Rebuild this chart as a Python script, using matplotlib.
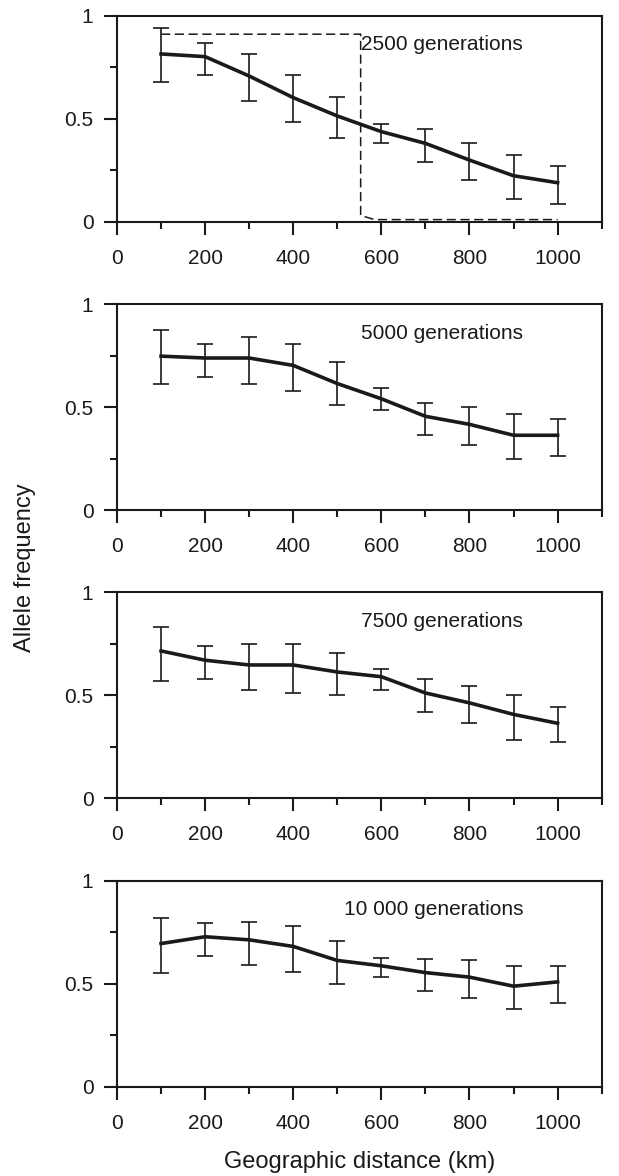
import matplotlib.pyplot as plt

plt.rcParams.update({
    "font.family": ["Liberation Sans", "DejaVu Sans"],
    "font.size": 15,
})

# distances (km)
distance = [100, 200, 300, 400, 500, 600, 700, 800, 900, 1000]

labels = ["2500 generations", "5000 generations",
          "7500 generations", "10 000 generations"]

# tick positions / labels
xticks = [0, 200, 400, 600, 800, 1000]
xticklabels = ["0", "200", "400", "600", "800", "1000"]
xminor = [100, 300, 500, 700, 900, 1100]
yticks = [0, 0.5, 1]
yticklabels = ["0", "0.5", "1"]
yminor = [0.25, 0.75]

# mean allele frequency per panel
freq_2500 = [0.814, 0.801, 0.707, 0.602, 0.513, 0.437, 0.380, 0.299, 0.223, 0.189]
freq_5000 = [0.748, 0.739, 0.739, 0.703, 0.615, 0.541, 0.456, 0.417, 0.364, 0.364]
freq_7500 = [0.715, 0.670, 0.647, 0.647, 0.613, 0.590, 0.511, 0.463, 0.407, 0.364]
freq_10000 = [0.695, 0.728, 0.713, 0.681, 0.613, 0.587, 0.554, 0.532, 0.488, 0.509]

# error bar upper / lower ends
hi_2500 = [0.938, 0.869, 0.814, 0.710, 0.607, 0.472, 0.451, 0.382, 0.325, 0.270]
lo_2500 = [0.680, 0.712, 0.587, 0.484, 0.405, 0.380, 0.290, 0.201, 0.108, 0.087]
hi_5000 = [0.875, 0.808, 0.841, 0.808, 0.718, 0.591, 0.519, 0.500, 0.466, 0.443]
lo_5000 = [0.614, 0.648, 0.615, 0.580, 0.510, 0.489, 0.364, 0.318, 0.250, 0.261]
hi_7500 = [0.831, 0.740, 0.751, 0.751, 0.706, 0.626, 0.580, 0.546, 0.499, 0.444]
lo_7500 = [0.567, 0.580, 0.524, 0.511, 0.499, 0.524, 0.420, 0.363, 0.283, 0.272]
hi_10000 = [0.817, 0.794, 0.802, 0.781, 0.705, 0.624, 0.622, 0.613, 0.588, 0.588]
lo_10000 = [0.554, 0.635, 0.590, 0.556, 0.499, 0.533, 0.464, 0.431, 0.375, 0.408]

# initial (step) distribution, drawn dashed in first panel
init_x = [100, 553, 553, 585, 1000]
init_y = [0.91, 0.91, 0.03, 0.01, 0.01]

freqs = [freq_2500, freq_5000, freq_7500, freq_10000]
his = [hi_2500, hi_5000, hi_7500, hi_10000]
los = [lo_2500, lo_5000, lo_7500, lo_10000]

fig = plt.figure(figsize=(6.19, 11.76), dpi=100)

left, width, height = 0.189, 0.783, 0.1752
bottoms = [0.8115, 0.5661, 0.3212, 0.0759]

ink = "#1a1a1a"

for i in range(4):
    ax = fig.add_axes([left, bottoms[i], width, height])
    y = freqs[i]
    yerr = [[m - l for m, l in zip(y, los[i])],
            [h - m for m, h in zip(y, his[i])]]

    ax.errorbar(distance, y, yerr=yerr, fmt="none", ecolor=ink,
                elinewidth=1.2, capsize=5.8, capthick=1.2, zorder=2)
    ax.plot(distance, y, color=ink, linewidth=2.6, zorder=3,
            solid_joinstyle="round")

    if i == 0:
        ax.plot(init_x, init_y, color=ink, linewidth=1.1,
                dashes=(6, 3), zorder=1)

    ax.text(922, 0.86, labels[i], ha="right", va="center",
            fontsize=15, color=ink)

    ax.set_xlim(0, 1100)
    ax.set_ylim(0, 1)
    ax.set_xticks(xticks, labels=xticklabels)
    ax.set_xticks(xminor, minor=True)
    ax.set_yticks(yticks, labels=yticklabels)
    ax.set_yticks(yminor, minor=True)

    for s in ax.spines.values():
        s.set_linewidth(1.5)
        s.set_color(ink)
    ax.tick_params(which="major", direction="out", length=9.5, width=1.5,
                   colors=ink, labelsize=15)
    ax.tick_params(axis="x", which="major", pad=10)
    ax.tick_params(axis="y", which="major", pad=7.5)
    ax.tick_params(which="minor", direction="out", length=5, width=1.5,
                   colors=ink)

    if i == 3:
        ax.set_xlabel("Geographic distance (km)", fontsize=17,
                      labelpad=13, color=ink)

fig.text(0.040, 0.517, "Allele frequency", rotation=90, ha="center",
         va="center", fontsize=17, color=ink)

fig.savefig("out.png", dpi=100)
